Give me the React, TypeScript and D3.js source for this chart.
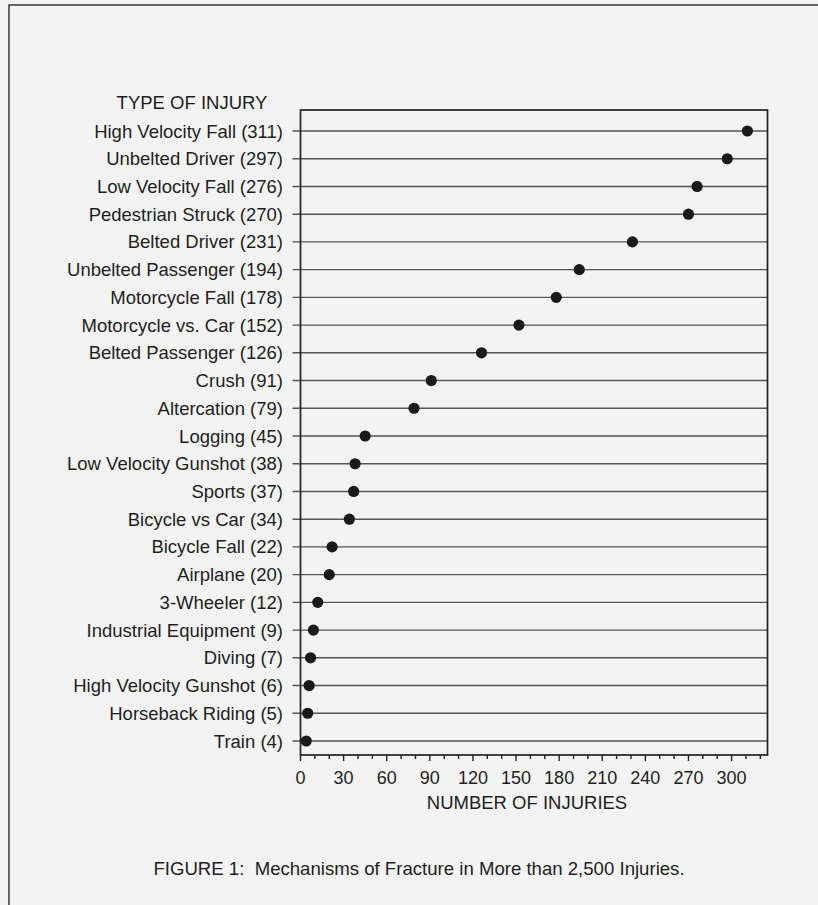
import React from "react";
import * as d3 from "d3";

const injuryTypes: string[] = [
  "High Velocity Fall",
  "Unbelted Driver",
  "Low Velocity Fall",
  "Pedestrian Struck",
  "Belted Driver",
  "Unbelted Passenger",
  "Motorcycle Fall",
  "Motorcycle vs. Car",
  "Belted Passenger",
  "Crush",
  "Altercation",
  "Logging",
  "Low Velocity Gunshot",
  "Sports",
  "Bicycle vs Car",
  "Bicycle Fall",
  "Airplane",
  "3-Wheeler",
  "Industrial Equipment",
  "Diving",
  "High Velocity Gunshot",
  "Horseback Riding",
  "Train",
];

const injuryCounts: number[] = [
  311, 297, 276, 270, 231, 194, 178, 152, 126, 91, 79, 45, 38, 37, 34, 22, 20, 12, 9, 7, 6, 5, 4,
];

const majorTicks: number[] = [0, 30, 60, 90, 120, 150, 180, 210, 240, 270, 300];
const minorTicks: number[] = d3.range(0, 330, 10);

const yTitle = "TYPE OF INJURY";
const xTitle = "NUMBER OF INJURIES";
const caption = "FIGURE 1:  Mechanisms of Fracture in More than 2,500 Injuries.";

const W = 818;
const H = 905;
const FONT = "'Liberation Sans', Arial, Helvetica, sans-serif";

export default function App() {
  const left = 300.5;
  const right = 767.5;
  const top = 110;
  const bottom = 755;

  const x = d3.scaleLinear().domain([0, 325]).range([left, right]);
  const y = d3.scalePoint<string>().domain(injuryTypes).range([131, 741]);

  const labels = injuryTypes.map((n, i) => `${n} (${injuryCounts[i]})`);

  return (
    <svg
      width={W}
      height={H}
      style={{ position: "absolute", left: 0, top: 0, display: "block" }}
      fontFamily={FONT}
    >
      <rect x={0} y={0} width={W} height={H} fill="#f3f3f3" />
      {/* outer frame */}
      <rect x={9} y={5} width={W + 20} height={H + 20} fill="none" stroke="#3a3a3a" strokeWidth={1.5} />

      {/* row lines + y ticks */}
      {injuryTypes.map((n) => (
        <line
          key={"l" + n}
          x1={left - 8}
          x2={right}
          y1={y(n)}
          y2={y(n)}
          stroke="#555"
          strokeWidth={1.4}
        />
      ))}

      {/* plot box */}
      <rect
        x={left}
        y={top}
        width={right - left}
        height={bottom - top}
        fill="none"
        stroke="#222"
        strokeWidth={1.7}
      />

      {/* x ticks */}
      {minorTicks.map((t) => (
        <line
          key={"t" + t}
          x1={x(t)}
          x2={x(t)}
          y1={bottom}
          y2={bottom + (t % 30 === 0 ? 6 : 4)}
          stroke="#222"
          strokeWidth={1.4}
        />
      ))}
      {majorTicks.map((t) => (
        <text
          key={"tl" + t}
          x={x(t)}
          y={bottom + 29}
          textAnchor="middle"
          fontSize={18}
          fill="#1e1e1e"
        >
          {t}
        </text>
      ))}

      {/* dots */}
      {injuryTypes.map((n, i) => (
        <circle key={"c" + n} cx={x(injuryCounts[i])} cy={y(n)} r={5.6} fill="#1a1a1a" />
      ))}

      {/* y labels */}
      {injuryTypes.map((n, i) => (
        <text
          key={"y" + n}
          x={283}
          y={(y(n) as number) + 6.5}
          textAnchor="end"
          fontSize={18.5}
          fill="#1e1e1e"
        >
          {labels[i]}
        </text>
      ))}

      <text x={192} y={109} textAnchor="middle" fontSize={18.5} fill="#1e1e1e">
        {yTitle}
      </text>
      <text x={527} y={809} textAnchor="middle" fontSize={18.5} fill="#1e1e1e">
        {xTitle}
      </text>
      <text x={419} y={875} textAnchor="middle" fontSize={18.6} fill="#1e1e1e" style={{ whiteSpace: "pre" }}>
        {caption}
      </text>
    </svg>
  );
}
